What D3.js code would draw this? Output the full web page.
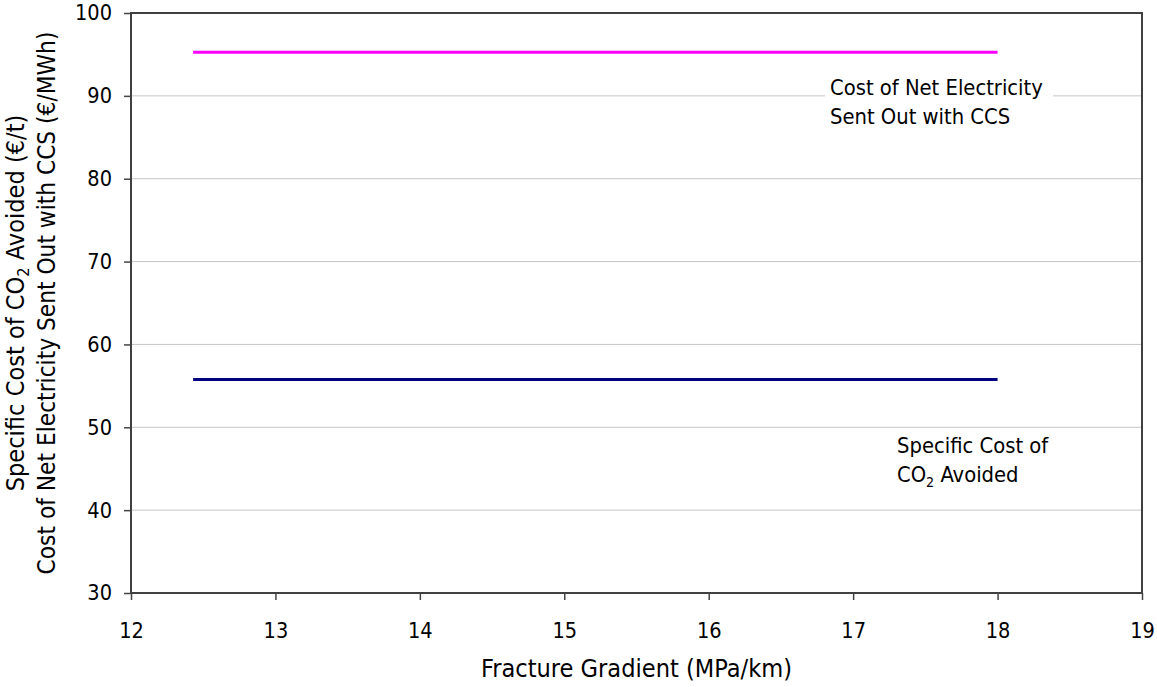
<!DOCTYPE html>
<html><head><meta charset="utf-8">
<script src="https://cdn.jsdelivr.net/npm/d3@7"></script>
<style>body{margin:0;background:#fff}svg{display:block}text{fill:#000}</style>
</head><body>
<svg id="c" width="1157" height="687"></svg>
<script>
const fractureGradient = [12.43, 13.6, 15.6, 18.0];
const costElectricity = [95.26, 95.26, 95.26, 95.26];
const costAvoided = [55.76, 55.76, 55.76, 55.76];
const xTicks = [12, 13, 14, 15, 16, 17, 18, 19];
const yTicks = [30, 40, 50, 60, 70, 80, 90, 100];

const FONT = '"DejaVu Sans Condensed","DejaVu Sans",sans-serif';
const svg = d3.select("#c");
const L = 131, R = 1142, T = 13, B = 593;
const x = d3.scaleLinear().domain([12, 19]).range([L, R]);
const y = d3.scaleLinear().domain([30, 100]).range([B, T]);

// font sizes chosen so that texts take the widths they have in the reference
function sizeFor(str, width) {
  const t = svg.append("text").attr("font-family", FONT).attr("font-size", 100)
    .attr("font-stretch", "condensed").text(str);
  const w = t.node().getComputedTextLength();
  t.remove();
  return 100 * width / w;
}
const TITLE = sizeFor("Fracture Gradient (MPa/km)", 311);
const TITLE2 = sizeFor("Cost of Net Electricity Sent Out with CCS (€/MWh)", 543);
const LABEL = sizeFor("Cost of Net Electricity", 213);
const TICK = sizeFor("100", 37);

// gridlines
svg.append("g").selectAll("line").data(yTicks.filter(v => v > 30 && v < 100)).join("line")
  .attr("x1", L).attr("x2", R).attr("y1", d => y(d)).attr("y2", d => y(d))
  .attr("stroke", "#c6c6c6").attr("stroke-width", 1);

// axes
const yAxis = d3.axisLeft(y).tickValues(yTicks).tickFormat(d3.format("d")).tickSize(7).tickPadding(12);
const gy = svg.append("g").attr("transform", `translate(${L},0)`).call(yAxis);
const xAxis = d3.axisBottom(x).tickValues(xTicks).tickFormat(d3.format("d")).tickSize(7).tickPadding(10);
const gx = svg.append("g").attr("transform", `translate(0,${B})`).call(xAxis);
[gx, gy].forEach(g => {
  g.attr("font-family", FONT).attr("font-size", TICK);
  g.select(".domain").remove();
  g.selectAll(".tick line").attr("stroke", "#444").attr("stroke-width", 1.5);
  g.selectAll(".tick text").attr("font-stretch", "condensed").attr("fill", "#000");
});
gx.selectAll(".tick text").attr("dy", null).attr("y", 638 - B);

// frame
svg.append("rect").attr("x", L).attr("y", T).attr("width", R - L).attr("height", B - T)
  .attr("fill", "none").attr("stroke", "#404040").attr("stroke-width", 2);

// lines
const line = d3.line().x(d => x(d[0])).y(d => y(d[1]));
svg.append("path").datum(fractureGradient.map((v, i) => [v, costElectricity[i]]))
  .attr("d", line).attr("fill", "none").attr("stroke", "#ff00ff").attr("stroke-width", 3);
svg.append("path").datum(fractureGradient.map((v, i) => [v, costAvoided[i]]))
  .attr("d", line).attr("fill", "none").attr("stroke", "#000080").attr("stroke-width", 3);

// labels
svg.append("rect").attr("x", 825).attr("y", 70).attr("width", 228).attr("height", 62).attr("fill", "#fff");
const t1 = svg.append("text").attr("x", 830).attr("y", 95).attr("font-size", LABEL)
  .attr("font-family", FONT).attr("font-stretch", "condensed");
t1.append("tspan").attr("x", 830).text("Cost of Net Electricity");
t1.append("tspan").attr("x", 830).attr("y", 124).text("Sent Out with CCS");

const t2 = svg.append("text").attr("x", 897).attr("y", 453).attr("font-size", LABEL)
  .attr("font-family", FONT).attr("font-stretch", "condensed");
t2.append("tspan").attr("x", 897).text("Specific Cost of");
t2.append("tspan").attr("x", 897).attr("y", 482).text("CO");
t2.append("tspan").attr("dy", 5).attr("font-size", LABEL * 0.65).text("2");
t2.append("tspan").attr("dy", -5).text(" Avoided");

// axis titles
svg.append("text").attr("x", (L + R) / 2).attr("y", 677).attr("text-anchor", "middle")
  .attr("font-family", FONT).attr("font-stretch", "condensed")
  .attr("font-size", TITLE).text("Fracture Gradient (MPa/km)");

const yt = svg.append("text").attr("transform", `translate(24,${(T + B) / 2}) rotate(-90)`)
  .attr("text-anchor", "middle").attr("font-size", TITLE)
  .attr("font-family", FONT).attr("font-stretch", "condensed");
yt.append("tspan").text("Specific Cost of CO");
yt.append("tspan").attr("dy", 5).attr("font-size", TITLE * 0.65).text("2");
yt.append("tspan").attr("dy", -5).text(" Avoided (€/t)");
svg.append("text").attr("transform", `translate(55,${(T + B) / 2}) rotate(-90)`)
  .attr("text-anchor", "middle").attr("font-size", TITLE2)
  .attr("font-family", FONT).attr("font-stretch", "condensed")
  .text("Cost of Net Electricity Sent Out with CCS (€/MWh)");
</script>
</body></html>
